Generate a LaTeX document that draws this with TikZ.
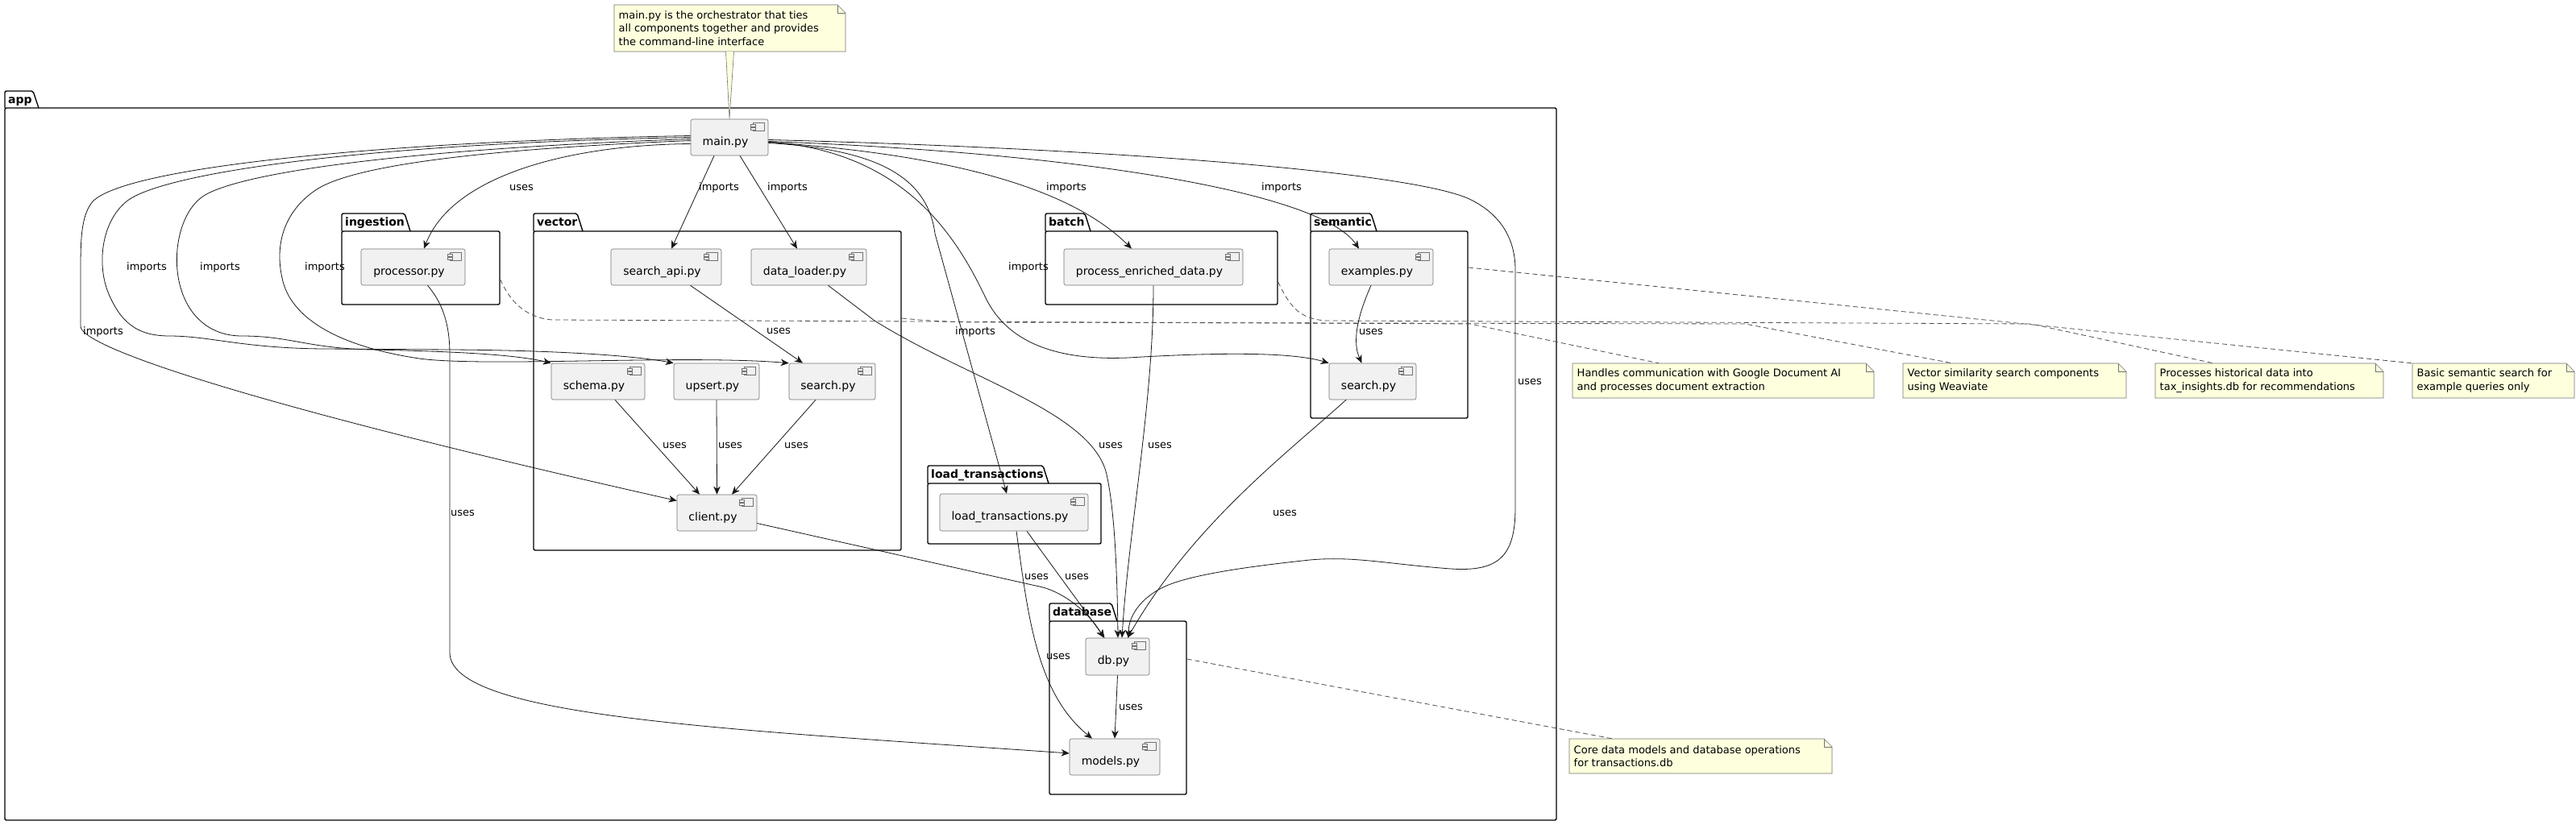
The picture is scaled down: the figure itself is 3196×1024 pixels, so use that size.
\documentclass[tikz,border=0pt]{standalone}
\usepackage{fontspec}
\setmainfont{DejaVu Sans}
\usetikzlibrary{arrows.meta}
\definecolor{compfill}{HTML}{F1F1F1}
\definecolor{notefill}{HTML}{FEFFDD}
\definecolor{linec}{HTML}{181818}
\tikzset{
  conn/.style={draw=linec, line width=0.8pt, -{Stealth[length=10pt,width=8.5pt,inset=3pt]}},
  lbl/.style={font=\fontsize{13}{15}\selectfont, inner sep=0pt},
  comp/.style={draw=black!55, fill=compfill, line width=0.6pt, rounded corners=2.5pt, inner sep=0pt},
  compicon/.style={draw=black!55, fill=compfill, line width=0.5pt},
  comptext/.style={font=\fontsize{14}{16}\selectfont, text height=10pt, text depth=3pt, inner sep=0pt},
  pkgbox/.style={draw=black, line width=1.4pt, rounded corners=2pt, inner sep=0pt},
  pkgline/.style={draw=black, line width=1.4pt, rounded corners=2pt},
  pkglabel/.style={font=\bfseries\fontsize{14}{16}\selectfont, anchor=base west, inner sep=0pt},
  notebox/.style={draw=black!55, fill=notefill, line width=0.6pt},
  notefold/.style={draw=black!55, line width=0.6pt},
  notetext/.style={font=\fontsize{13}{16.5}\selectfont, align=left, inner sep=0pt, anchor=west},
  notec/.style={draw=black!70, line width=0.8pt, dash pattern=on 6pt off 4pt},
}
\newcommand\mycomp[6]{%
  \node[comp,minimum width={#4pt-#2pt},minimum height={#5pt-#3pt}] (#1) at ({(#2+#4)/2},{(#3+#5)/2}) {};
  \node[comptext] (#1-t) at ([xshift=-5pt,yshift=-6.3pt]#1.center) {#6};
  \draw[compicon] ([xshift=-19pt,yshift=-4.5pt]#1.north east) rectangle ([xshift=-5pt,yshift=-14.5pt]#1.north east);
  \draw[compicon] ([xshift=-22pt,yshift=-7pt]#1.north east) rectangle ([xshift=-16pt,yshift=-9.5pt]#1.north east);
  \draw[compicon] ([xshift=-22pt,yshift=-11pt]#1.north east) rectangle ([xshift=-16pt,yshift=-13.5pt]#1.north east);
}
\newcommand\mypkg[8]{%
  \node[pkgbox,minimum width={#5pt-#2pt},minimum height={#6pt-#4pt}] (#1) at ({(#2+#5)/2},{(#4+#6)/2}) {};
  \draw[pkgline] (#2,#4) -- (#2,#3) -- ({#7-7},#3) -- (#7,#4);
  \node[pkglabel] (#1-l) at ({#2+4},{#3+15.5}) {#8};
}
\newcommand\mynote[6]{%
  \draw[notebox] (#2,#3) -- ({#4-10},#3) -- (#4,{#3+10}) -- (#4,#5) -- (#2,#5) -- cycle;
  \draw[notefold] ({#4-10},#3) -- ({#4-10},{#3+10}) -- (#4,{#3+10});
  \node[inner sep=0pt,minimum width={#4pt-#2pt},minimum height={#5pt-#3pt}] (#1) at ({(#2+#4)/2},{(#3+#5)/2}) {};
  \node[notetext] (#1-t) at ({#2+5.5},{(#3+#5)/2}) {#6};
}
\begin{document}
\begin{tikzpicture}[x=1pt,y=-1pt]
\useasboundingbox (0,0) rectangle (3196,1024);
\fill[white] (0,0) rectangle (3196,1024);

% packages
\mypkg{appP}{6}{113}{134}{1931}{1018}{48}{app}
\mypkg{ingP}{424}{265}{287}{620}{378}{509}{ingestion}
\mypkg{vecP}{662}{265}{287}{1118}{683}{723}{vector}
\mypkg{batchP}{1297}{265}{287}{1585}{378}{1353}{batch}
\mypkg{semP}{1626}{265}{287}{1821}{519}{1708}{semantic}
\mypkg{ltP}{1151}{578}{600}{1366}{675}{1301}{load\_transactions}
\mypkg{dbP}{1302}{749}{771}{1472}{986}{1386}{database}

% components
\mycomp{main}{857}{148}{953}{193}{main.py}
\mycomp{processor}{448}{309}{577}{354}{processor.py}
\mycomp{searchapi}{758}{309}{895}{354}{search\_api.py}
\mycomp{dataloader}{932}{309}{1075}{354}{data\_loader.py}
\mycomp{pe}{1320}{309}{1542}{354}{process\_enriched\_data.py}
\mycomp{examples}{1649}{309}{1778}{354}{examples.py}
\mycomp{semsearch}{1649}{451}{1757}{496}{search.py}
\mycomp{schema}{684}{451}{800}{496}{schema.py}
\mycomp{upsert}{836}{451}{942}{496}{upsert.py}
\mycomp{vsearch}{979}{451}{1086}{496}{search.py}
\mycomp{client}{840}{614}{939}{659}{client.py}
\mycomp{loadtx}{1166}{613}{1350}{659}{load\_transactions.py}
\mycomp{db}{1347}{792}{1426}{838}{db.py}
\mycomp{models}{1327}{917}{1439}{962}{models.py}

% notes
\mynote{nmain}{762}{6}{1049}{64}{main.py is the orchestrator that ties\\all components together and provides\\the command-line interface}
\mynote{ning}{1951}{451}{2325}{494}{Handles communication with Google Document AI\\and processes document extraction}
\mynote{nvec}{2361}{451}{2638}{494}{Vector similarity search components\\using Weaviate}
\mynote{nbatch}{2674}{451}{2957}{494}{Processes historical data into\\tax\_insights.db for recommendations}
\mynote{nsem}{2993}{451}{3194}{494}{Basic semantic search for\\example queries only}
\mynote{ndb}{1947}{917}{2273}{960}{Core data models and database operations\\for transactions.db}

% note connectors
\draw[notebox] ([xshift=-5pt]nmain.south) -- (main.north) -- ([xshift=5pt]nmain.south);
\draw[notec] ([yshift=-14.5pt]ingP.east) .. controls (632,372) and (650,394) .. (685,397) -- (1824,402) -- ([xshift=-80pt]ning.north);
\draw[notec] ([yshift=90pt]vecP.east) .. controls (1150,398) .. (1200,400) -- (2165,402) -- ([xshift=-77.5pt]nvec.north);
\draw[notec] ([yshift=-17.5pt]batchP.east) .. controls (1600,380) and (1612,396) .. (1645,398) -- (2520,402) -- ([xshift=-69.5pt]nbatch.north);
\draw[notec] ([yshift=71pt]semP.east) -- (nsem.north west);
\draw[notec] ([yshift=60.5pt]dbP.east) -- ([xshift=-110pt]ndb.north);

% connectors from main
\draw[conn] ([yshift=-8pt]main.west) .. controls (700,180) and (560,220) .. ([xshift=13.5pt]processor.north);
\draw[conn] ([xshift=-19pt]main.south) -- ([xshift=6.5pt]searchapi.north);
\draw[conn] ([xshift=13pt]main.south) -- ([xshift=-14.5pt]dataloader.north);
\draw[conn] ([yshift=-6pt]main.east) .. controls (1150,190) and (1320,225) .. ([xshift=-27pt]pe.north);
\draw[conn] ([yshift=-5pt]main.east) .. controls (1350,190) and (1640,240) .. ([xshift=-27.5pt]examples.north);
\draw[conn] ([yshift=-3pt]main.east) .. controls (1400,185) and (1760,215) .. (1825,248) .. controls (1865,268) and (1880,300) .. (1880,335) -- (1880,630) .. controls (1880,690) and (1860,710) .. (1800,706) .. controls (1720,700) and (1680,690) .. (1625,695) .. controls (1560,702) and (1480,712) .. (1445,728) .. controls (1415,742) and (1400,765) .. ([xshift=13.5pt]db.north);
\draw[conn] ([yshift=-7pt]main.east) .. controls (1080,185) and (1150,215) .. (1160,290) -- ([xshift=-9pt]loadtx.north);
\draw[conn] ([yshift=-5.5pt]main.east) .. controls (1120,188) and (1185,290) .. (1223,370) .. controls (1255,435) and (1330,447) .. (1400,444) .. controls (1500,438) and (1600,436) .. (semsearch.north west);
\draw[conn] (main.west) .. controls (450,178) and (200,215) .. (157,250) .. controls (125,276) and (120,330) .. (135,365) .. controls (150,400) and (170,417) .. (210,417) .. controls (260,417) and (300,432) .. (400,433) -- (560,434) .. controls (700,435) and (790,442) .. (upsert.north west);
\draw[conn] ([yshift=-2pt]main.west) .. controls (500,185) and (290,215) .. (250,245) .. controls (222,266) and (212,320) .. (225,360) .. controls (235,392) and (260,417) .. (300,417) .. controls (360,417) and (380,432) .. (460,434) .. controls (560,436) and (640,440) .. (schema.north west);
\draw[conn] ([yshift=-4pt]main.west) .. controls (600,185) and (440,205) .. (393,235) .. controls (355,260) and (340,300) .. (350,345) .. controls (360,395) and (420,430) .. (520,445) .. controls (600,456) and (850,440) .. (vsearch.north west);
\draw[conn] ([yshift=2pt]main.west) .. controls (500,175) and (160,205) .. (115,250) .. controls (100,268) and (100,300) .. (100,340) -- (100,405) .. controls (100,430) and (300,500) .. ([yshift=15pt]client.west);

% other connectors
\draw[conn] ([xshift=18pt]processor.south) .. controls (548,375) and (558,400) .. (558,440) -- (558,810) .. controls (558,890) and (900,905) .. ([yshift=4.5pt]models.west);
\draw[conn] ([xshift=30pt]searchapi.south) -- ([xshift=-36.5pt]vsearch.north);
\draw[conn] ([xshift=24pt]dataloader.south) -- (1085,398) .. controls (1200,470) and (1350,510) .. (1372,585) .. controls (1382,625) and (1386,700) .. ([xshift=0.5pt]db.north);
\draw[conn] (pe.south) .. controls (1431,500) and (1400,660) .. ([xshift=5.5pt]db.north);
\draw[conn] ([xshift=21pt]schema.south) -- ([xshift=-21.5pt]client.north);
\draw[conn] (upsert.south) -- (client.north);
\draw[conn] ([xshift=-20.5pt]vsearch.south) -- ([xshift=18.5pt]client.north);
\draw[conn] ([yshift=-13pt]client.east) -- (1285,727) .. controls (1320,733) and (1352,762) .. ([xshift=-17pt]db.north);
\draw[conn] ([xshift=16pt]loadtx.south) -- ([xshift=-16pt]db.north);
\draw[conn] ([xshift=3pt]loadtx.south) .. controls (1275,760) and (1285,860) .. ([xshift=-28pt]models.north);
\draw[conn] (db.south) -- (models.north);
\draw[conn] ([xshift=-12.5pt]examples.south) .. controls (1683,395) and (1678,425) .. ([xshift=-13.5pt]semsearch.north);
\draw[conn] ([xshift=-33pt]semsearch.south) .. controls (1600,560) and (1480,650) .. ([xshift=12.5pt]db.north);

% labels
\node[lbl] (l1) at (647,233) {uses};
\node[lbl] (l2) at (892,233) {imports};
\node[lbl] (l3) at (977,233) {imports};
\node[lbl] (l4) at (1323,233) {imports};
\node[lbl] (l5) at (1590,233) {imports};
\node[lbl] (l6) at (182,332) {imports};
\node[lbl] (l7) at (273,332) {imports};
\node[lbl] (l8) at (403,332) {imports};
\node[lbl] (l9) at (128,412) {imports};
\node[lbl] (l10) at (1276,332) {imports};
\node[lbl] (l11) at (1210,412) {imports};
\node[lbl] (l12) at (966,411) {uses};
\node[lbl] (l13) at (1701,412) {uses};
\node[lbl] (l14) at (1898,474) {uses};
\node[lbl] (l15) at (837,553) {uses};
\node[lbl] (l16) at (906,553) {uses};
\node[lbl] (l17) at (988,553) {uses};
\node[lbl] (l18) at (1378,553) {uses};
\node[lbl] (l19) at (1439,553) {uses};
\node[lbl] (l20) at (574,637) {uses};
\node[lbl] (l21) at (1594,637) {uses};
\node[lbl] (l22) at (1286,716) {uses};
\node[lbl] (l23) at (1336,716) {uses};
\node[lbl] (l24) at (1313,815) {uses};
\node[lbl] (l25) at (1403,878) {uses};
\end{tikzpicture}
\end{document}
